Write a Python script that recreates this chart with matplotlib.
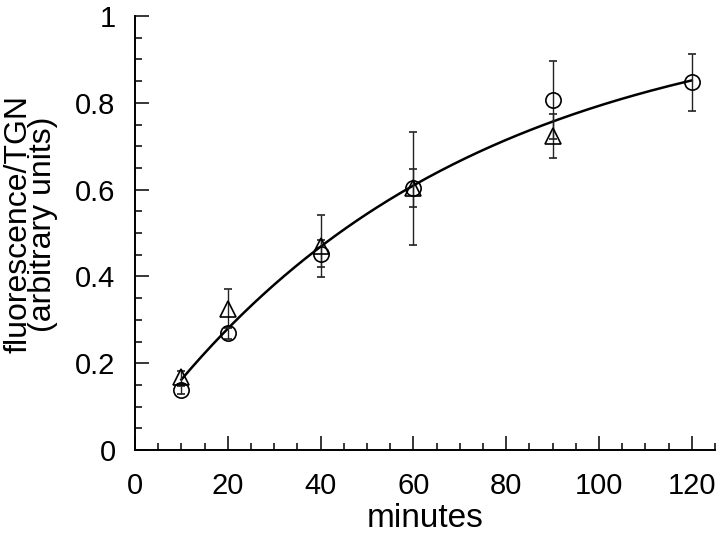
import numpy as np
import matplotlib
matplotlib.use("Agg")
import matplotlib.pyplot as plt
from matplotlib.ticker import MultipleLocator, FuncFormatter

plt.rcParams['font.family'] = ['Liberation Sans', 'DejaVu Sans']

# circles
circ_x = [10, 20, 40, 60, 90, 120]
circ_y = [0.138, 0.269, 0.452, 0.603, 0.806, 0.847]
circ_err = [0.009, 0.014, 0.031, 0.131, 0.09, 0.065]

# triangles
tri_x = [10, 20, 40, 60, 90]
tri_y = [0.168, 0.326, 0.470, 0.603, 0.724]
tri_err = [0.015, 0.045, 0.072, 0.044, 0.05]

xticks = [0, 20, 40, 60, 80, 100, 120]
yticks = [0, 0.2, 0.4, 0.6, 0.8, 1.0]


def fit_curve(x, y):
    # y = a + b*exp(-k x), k picked by scanning
    best = None
    for k in np.linspace(0.001, 0.05, 500):
        A = np.column_stack([np.ones_like(x), np.exp(-k * x)])
        coef, res, _, _ = np.linalg.lstsq(A, y, rcond=None)
        err = np.sum((A @ coef - y) ** 2)
        if best is None or err < best[0]:
            best = (err, k, coef)
    return best[1], best[2]


def main():
    fig = plt.figure(figsize=(7.2, 5.36), dpi=100)
    ax = fig.add_axes([0.1875, 0.1604, 0.8055, 0.8096])

    allx = np.array(circ_x + tri_x, dtype=float)
    ally = np.array(circ_y + tri_y, dtype=float)
    k, coef = fit_curve(allx, ally)
    xs = np.linspace(min(circ_x), max(circ_x), 200)
    ax.plot(xs, coef[0] + coef[1] * np.exp(-k * xs), color='black', lw=1.8, zorder=3)

    ax.errorbar(circ_x, circ_y, yerr=circ_err, fmt='o', ms=11, mfc='none', mec='black',
                mew=1.2, ecolor='#222222', elinewidth=1.0, capsize=3, capthick=1.0, zorder=4)
    ax.errorbar(tri_x, tri_y, yerr=tri_err, fmt='^', ms=11, mfc='none', mec='black',
                mew=1.2, ecolor='#222222', elinewidth=1.0, capsize=3, capthick=1.0, zorder=4)

    ax.set_xlim(0, 125)
    ax.set_ylim(0, 1)
    ax.spines['top'].set_visible(False)
    ax.spines['right'].set_visible(False)
    ax.spines['left'].set_linewidth(1.4)
    ax.spines['bottom'].set_linewidth(1.4)

    ax.set_xticks(xticks)
    ax.set_yticks(yticks)
    ax.xaxis.set_minor_locator(MultipleLocator(5))
    ax.yaxis.set_minor_locator(MultipleLocator(0.05))
    ax.yaxis.set_major_formatter(FuncFormatter(lambda v, p: '0' if v == 0 else ('1' if v == 1 else f'{v:.1f}')))
    ax.tick_params(which='major', direction='in', length=10, width=1.1, labelsize=21)
    ax.tick_params(axis='y', which='major', pad=14)
    ax.tick_params(axis='x', which='major', pad=16)
    ax.tick_params(which='minor', direction='in', length=5, width=1.1)

    ax.set_xlabel('minutes', fontsize=24, labelpad=2)
    ax.set_ylabel('fluorescence/TGN\n(arbitrary units)', fontsize=23, linespacing=0.8)
    ax.yaxis.set_label_coords(-0.132, 0.52)

    fig.savefig('out.png', dpi=100)


main()
